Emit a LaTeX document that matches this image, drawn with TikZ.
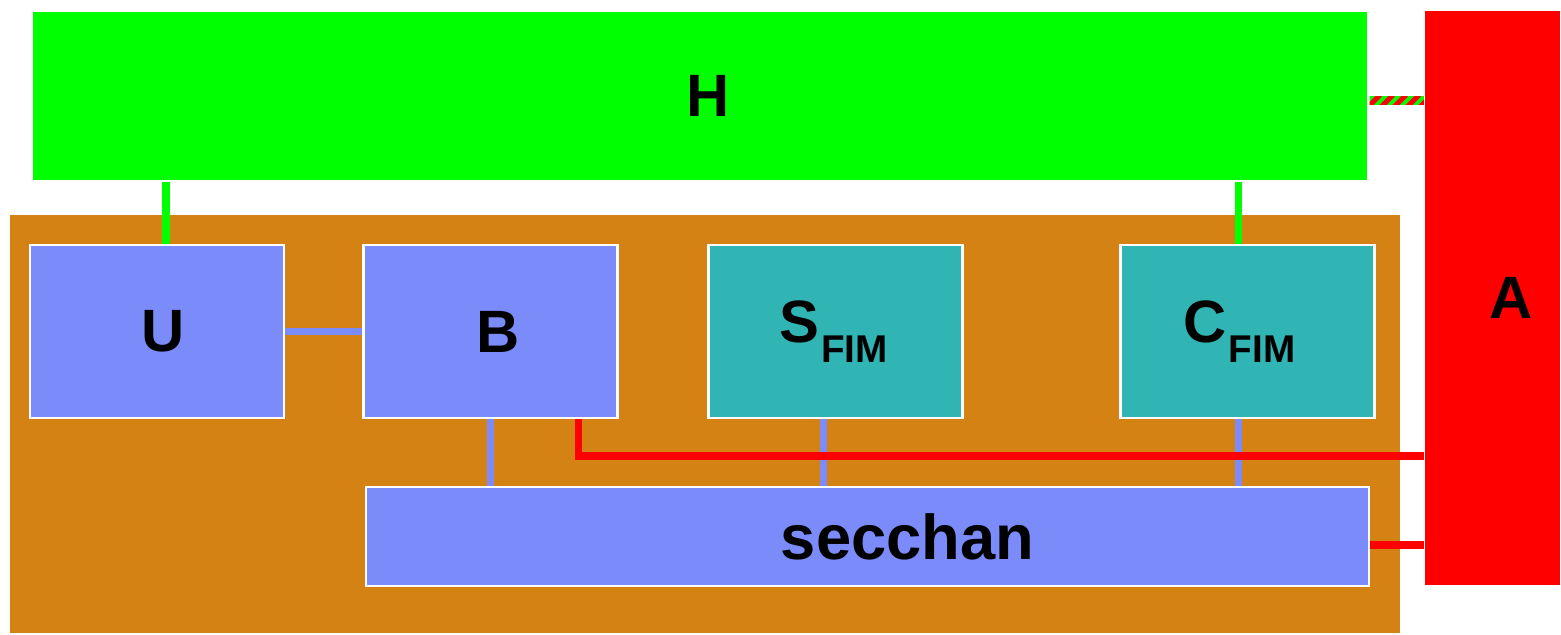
\documentclass[tikz,border=0pt]{standalone}
\usepackage{fontspec}
\setmainfont{Liberation Sans}
\usetikzlibrary{calc}
\definecolor{hgreen}{RGB}{0,255,0}
\definecolor{base}{RGB}{212,130,20}
\definecolor{mod}{RGB}{123,139,250}
\definecolor{fim}{RGB}{48,180,180}
\newcommand{\fimsub}{\kern.02cm\raisebox{-.2cm}[0pt]{\fontsize{11}{12}\selectfont FIM}}
\tikzset{
  blk/.style={draw=white,line width=.6pt,inner sep=0pt,font=\fontsize{17}{20}\selectfont\bfseries},
  gline/.style={hgreen,line width=2pt},
  bline/.style={mod,line width=2pt},
  rline/.style={red,line width=2pt}
}
\begin{document}
\begin{tikzpicture}
  \useasboundingbox (0,0) rectangle (15.61,6.35);
  \fill[base] (.1,.02) rectangle (14,4.2);
  \node[blk,fill=hgreen,minimum width=13.37cm,minimum height=1.7cm] (H) at (7,5.39) {\hspace*{.17cm}H};
  \node[blk,fill=red,draw=none,minimum width=1.35cm,minimum height=5.74cm] (A) at (14.925,3.37) {\hspace*{.38cm}A};
  \node[blk,fill=mod,minimum width=2.54cm,minimum height=1.73cm] (U) at (1.57,3.035) {\hspace*{.12cm}U};
  \node[blk,fill=mod,minimum width=2.54cm,minimum height=1.73cm] (B) at (4.905,3.035) {\hspace*{.16cm}B};
  \node[blk,fill=fim,minimum width=2.54cm,minimum height=1.73cm] (S) at (8.355,3.035) {S\fimsub\hspace*{.04cm}};
  \node[blk,fill=fim,minimum width=2.54cm,minimum height=1.73cm] (C) at (12.475,3.035) {C\fimsub\hspace*{.16cm}};
  \node[blk,fill=mod,minimum width=10.03cm,minimum height=.99cm,font=\fontsize{18}{20}\selectfont\bfseries] (sec) at (8.675,.985) {\hspace*{.8cm}secchan};
  % link points
  \coordinate (u1) at ($(U.north)+(.09,0)$);  \coordinate (c1) at ($(C.north)+(-.09,0)$);
  \coordinate (s2) at ($(S.south)+(-.12,0)$); \coordinate (c2) at ($(C.south)+(-.09,0)$);
  \coordinate (b2) at ($(B.south east)+(-.4,0)$);
  \coordinate (r1) at ($(sec.east)+(0,-.085)$);
  \coordinate (bend) at (0,1.79);
  % links to H
  \draw[gline] (u1) -- (u1 |- H.south);
  \draw[gline] (c1) -- (c1 |- H.south);
  % internal links
  \draw[bline] (U.east) -- (B.west);
  \draw[bline] (B.south) -- (B.south |- sec.north);
  \draw[bline] (s2) -- (s2 |- sec.north);
  \draw[bline] (c2) -- (c2 |- sec.north);
  % links to A
  \draw[rline] (b2) |- (A.west |- bend);
  \draw[rline] (r1) -- (r1 -| A.west);
  \begin{scope}
    \clip ($(H.east)+(0,-.01)$) rectangle ($(A.west |- H.east)+(0,-.09)$);
    \fill[hgreen] (13.6,5.0) rectangle (14.4,5.6);
    \foreach \x in {13.6,13.73,...,14.4} \draw[red,line width=1.5pt] (\x,5.2) -- ++(.2,.2);
  \end{scope}
\end{tikzpicture}
\end{document}
